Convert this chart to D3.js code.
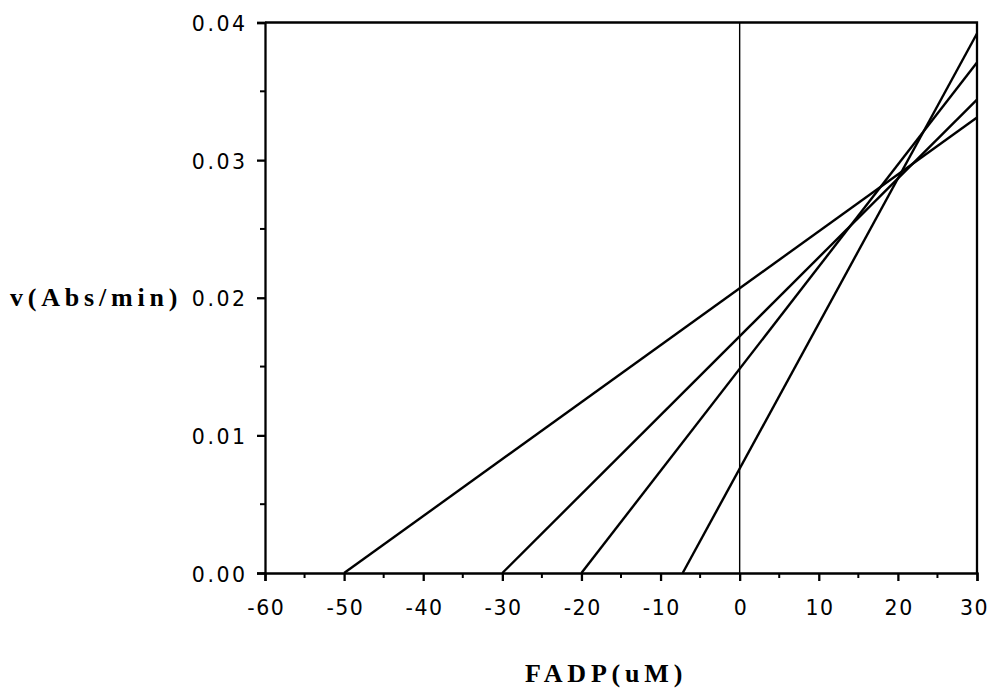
<!DOCTYPE html>
<html>
<head>
<meta charset="utf-8">
<script src="https://cdn.jsdelivr.net/npm/d3@7"></script>
<style>
  html, body { margin: 0; padding: 0; background: #fff; }
  svg { display: block; }
</style>
</head>
<body>
<svg id="chart" width="993" height="691"></svg>
<script>
// Lineweaver-style plot: each line runs from its x-intercept (v = 0) to FADP = 30 uM.
const xIntercepts = [-50, -30, -20, -7.2];
const vAtEnd = [0.0331, 0.0344, 0.0371, 0.0392];
const xEnd = 30;

const xTicks = [-60, -50, -40, -30, -20, -10, 0, 10, 20, 30];
const yTicks = [0.00, 0.01, 0.02, 0.03, 0.04];
const xMinorTicks = [-55, -45, -35, -25, -15, -5, 5, 15, 25];
const yMinorTicks = [0.005, 0.015, 0.025, 0.035];

const xLabel = "FADP(uM)";
const yLabel = "v(Abs/min)";

const svg = d3.select("#chart");
const plotLeft = 265, plotRight = 977, plotTop = 22.5, plotBottom = 573;

const x = d3.scaleLinear().domain([-60, 30]).range([plotLeft, plotRight]);
const y = d3.scaleLinear().domain([0, 0.04]).range([plotBottom, plotTop]);

const tickFont = "'DejaVu Sans', sans-serif";
const tickSize = 20.5, tickSpacing = 2.5, xTickSpacing = 1.5;

// frame: top and right edges
svg.append("path")
  .attr("d", `M${plotLeft},${plotTop}H${plotRight}V${plotBottom}`)
  .attr("fill", "none").attr("stroke", "#000").attr("stroke-width", 2.3);

// x axis
const xAxis = svg.append("g").attr("transform", `translate(0,${plotBottom})`)
  .call(d3.axisBottom(x).tickValues(xTicks).tickFormat(d3.format("d")).tickSize(8).tickPadding(19));
xAxis.select(".domain").attr("stroke-width", 2.3);
xAxis.selectAll(".tick line").attr("stroke-width", 2.3);
xAxis.selectAll("text")
  .attr("font-family", tickFont).attr("font-size", tickSize)
  .attr("letter-spacing", xTickSpacing)
  .attr("dx", d => d === 30 ? -3 : xTickSpacing / 2)
  .text(d => d < 0 ? "-" + Math.abs(d) : d);
svg.append("g").attr("transform", `translate(0,${plotBottom})`)
  .selectAll("line").data(xMinorTicks).join("line")
  .attr("x1", d => x(d)).attr("x2", d => x(d)).attr("y1", 0).attr("y2", 5)
  .attr("stroke", "#000").attr("stroke-width", 2);

// y axis
const yAxis = svg.append("g").attr("transform", `translate(${plotLeft},0)`)
  .call(d3.axisLeft(y).tickValues(yTicks).tickFormat(d3.format(".2f")).tickSize(8).tickPadding(12 - tickSpacing));
yAxis.select(".domain").attr("stroke-width", 2.3);
yAxis.selectAll(".tick line").attr("stroke-width", 2.3);
yAxis.selectAll("text")
  .attr("font-family", tickFont).attr("font-size", tickSize)
  .attr("letter-spacing", tickSpacing).attr("dy", "0.4em");
svg.append("g").attr("transform", `translate(${plotLeft},0)`)
  .selectAll("line").data(yMinorTicks).join("line")
  .attr("x1", 0).attr("x2", -5).attr("y1", d => y(d)).attr("y2", d => y(d))
  .attr("stroke", "#000").attr("stroke-width", 2);

// vertical line at FADP = 0
svg.append("line")
  .attr("x1", x(0)).attr("x2", x(0)).attr("y1", plotTop).attr("y2", plotBottom)
  .attr("stroke", "#000").attr("stroke-width", 1.4);

// data lines
const lines = xIntercepts.map((x0, i) => [[x0, 0], [xEnd, vAtEnd[i]]]);
const lineGen = d3.line().x(d => x(d[0])).y(d => y(d[1]));
svg.append("g").selectAll("path").data(lines).join("path")
  .attr("d", lineGen)
  .attr("fill", "none").attr("stroke", "#000").attr("stroke-width", 2.4);

// axis titles
svg.append("text")
  .attr("x", 10).attr("y", 306)
  .attr("font-family", "'Liberation Serif', serif").attr("font-weight", "bold")
  .attr("font-size", 26).attr("letter-spacing", 4.8)
  .text(yLabel);

svg.append("text")
  .attr("x", 525).attr("y", 682)
  .attr("font-family", "'Liberation Serif', serif").attr("font-weight", "bold")
  .attr("font-size", 26).attr("letter-spacing", 4.8)
  .text(xLabel);
</script>
</body>
</html>
